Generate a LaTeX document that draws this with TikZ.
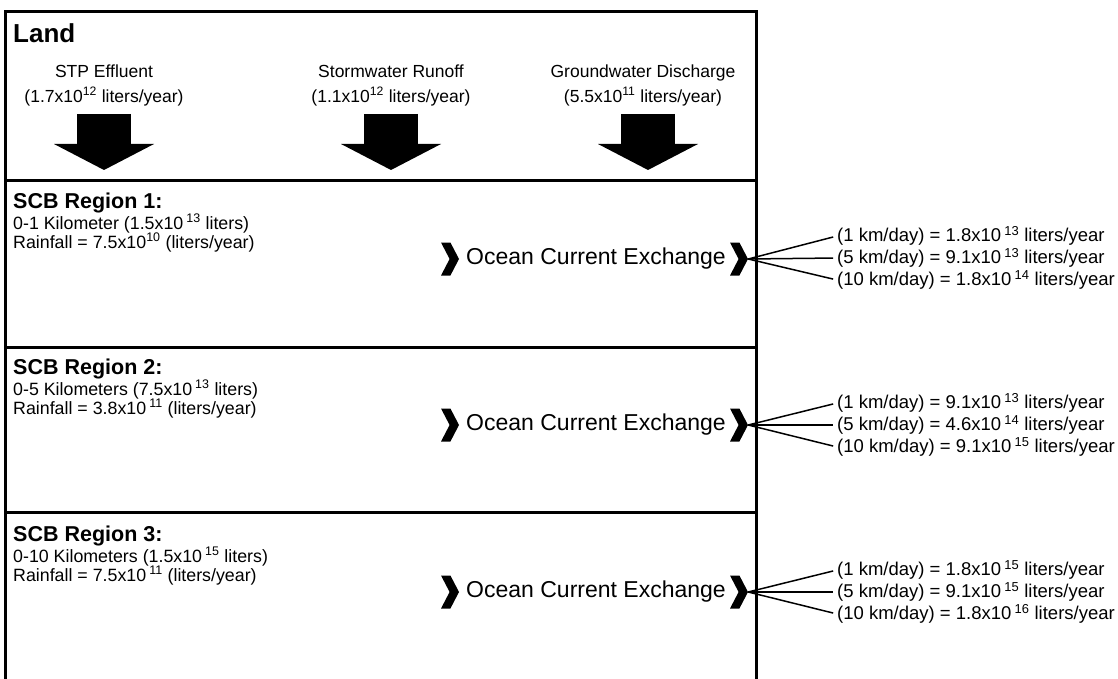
\documentclass[tikz,border=0pt]{standalone}
\usepackage{fontspec}
\setmainfont{Liberation Sans}
\usetikzlibrary{arrows.meta,shapes.symbols,positioning}

\begin{document}
\begin{tikzpicture}[x=1pt,y=-1pt,
    frame/.style={line width=3pt},
    head/.style={font=\fontsize{26}{30}\selectfont\bfseries,anchor=base west,inner sep=0pt},
    src/.style={font=\fontsize{17.5}{25}\selectfont,align=center,inner sep=0pt},
    flow/.style={line width=54pt,-{Triangle[width=100pt,length=26pt,line width=0pt]}},
    reg/.style={font=\fontsize{21.5}{25}\selectfont\bfseries,anchor=base west,inner sep=0pt},
    info/.style={font=\fontsize{17.8}{20}\selectfont,anchor=base west,inner sep=0pt},
    chev/.style={signal,signal to=east,signal from=west,signal pointer angle=125,
                 fill=black,minimum width=18pt,minimum height=33pt,inner sep=0pt},
    ocean/.style={font=\fontsize{23}{27}\selectfont,inner sep=0pt},
    rate/.style={font=\fontsize{18.5}{20}\selectfont,anchor=west,inner sep=0pt},
    fan/.style={line width=1.5pt,shorten >=4pt}
  ]
  \useasboundingbox (0,0) rectangle (1118,679);

  % outer box and the bands
  \draw[frame] (5,690) -- (5,12) -- (756,12) -- (756,690);
  \draw[frame] (5,181) -- (756,181);
  \draw[frame] (5,347) -- (756,347);
  \draw[frame] (5,512) -- (756,512);

  % land
  \node[head] (land) at (13,43) {Land};
  \node[src] (stp) at (104,85) {STP Effluent\\(1.7x10\textsuperscript{12} liters/year)};
  \node[src] (storm) at (391,85) {Stormwater Runoff\\(1.1x10\textsuperscript{12} liters/year)};
  \node[src] (ground) at (643,85) {Groundwater Discharge\\(5.5x10\textsuperscript{11} liters/year)};
  \coordinate (stpout) at (104,114);    \coordinate (stpin) at (104,170);
  \coordinate (stormout) at (391,114);  \coordinate (stormin) at (391,170);
  \coordinate (groundout) at (648,114); \coordinate (groundin) at (648,170);
  \draw[flow] (stpout) -- (stpin);
  \draw[flow] (stormout) -- (stormin);
  \draw[flow] (groundout) -- (groundin);

  % region 1
  \node[reg] (r1) at (13,208) {SCB Region 1:};
  \node[info] (vol1) at (13,229) {0-1 Kilometer (1.5x10\,\textsuperscript{13} liters)};
  \node[info] (rain1) at (13,248) {Rainfall = 7.5x10\textsuperscript{10} (liters/year)};
  \node[chev] (in1) at (450,259) {};
  \node[ocean] (oce1) at (596,259) {Ocean Current Exchange};
  \node[chev] (out1) at (739,259) {};
  \node[rate] (a1) at (837,236) {(1 km/day) = 1.8x10\,\textsuperscript{13} liters/year};
  \node[rate] (b1) at (837,258) {(5 km/day) = 9.1x10\,\textsuperscript{13} liters/year};
  \node[rate] (c1) at (837,280) {(10 km/day) = 1.8x10\,\textsuperscript{14} liters/year};
  \draw[fan] (out1.east) -- (a1.west);
  \draw[fan] (out1.east) -- (b1.west);
  \draw[fan] (out1.east) -- (c1.west);

  % region 2
  \node[reg] (r2) at (13,374) {SCB Region 2:};
  \node[info] (vol2) at (13,395) {0-5 Kilometers (7.5x10\,\textsuperscript{13} liters)};
  \node[info] (rain2) at (13,414) {Rainfall = 3.8x10\,\textsuperscript{11} (liters/year)};
  \node[chev] (in2) at (450,425) {};
  \node[ocean] (oce2) at (596,425) {Ocean Current Exchange};
  \node[chev] (out2) at (739,425) {};
  \node[rate] (a2) at (837,403) {(1 km/day) = 9.1x10\,\textsuperscript{13} liters/year};
  \node[rate] (b2) at (837,425) {(5 km/day) = 4.6x10\,\textsuperscript{14} liters/year};
  \node[rate] (c2) at (837,447) {(10 km/day) = 9.1x10\,\textsuperscript{15} liters/year};
  \draw[fan] (out2.east) -- (a2.west);
  \draw[fan] (out2.east) -- (b2.west);
  \draw[fan] (out2.east) -- (c2.west);

  % region 3
  \node[reg] (r3) at (13,541) {SCB Region 3:};
  \node[info] (vol3) at (13,562) {0-10 Kilometers (1.5x10\,\textsuperscript{15} liters)};
  \node[info] (rain3) at (13,581) {Rainfall = 7.5x10\,\textsuperscript{11} (liters/year)};
  \node[chev] (in3) at (450,592) {};
  \node[ocean] (oce3) at (596,592) {Ocean Current Exchange};
  \node[chev] (out3) at (739,592) {};
  \node[rate] (a3) at (837,570) {(1 km/day) = 1.8x10\,\textsuperscript{15} liters/year};
  \node[rate] (b3) at (837,592) {(5 km/day) = 9.1x10\,\textsuperscript{15} liters/year};
  \node[rate] (c3) at (837,614) {(10 km/day) = 1.8x10\,\textsuperscript{16} liters/year};
  \draw[fan] (out3.east) -- (a3.west);
  \draw[fan] (out3.east) -- (b3.west);
  \draw[fan] (out3.east) -- (c3.west);
\end{tikzpicture}
\end{document}
